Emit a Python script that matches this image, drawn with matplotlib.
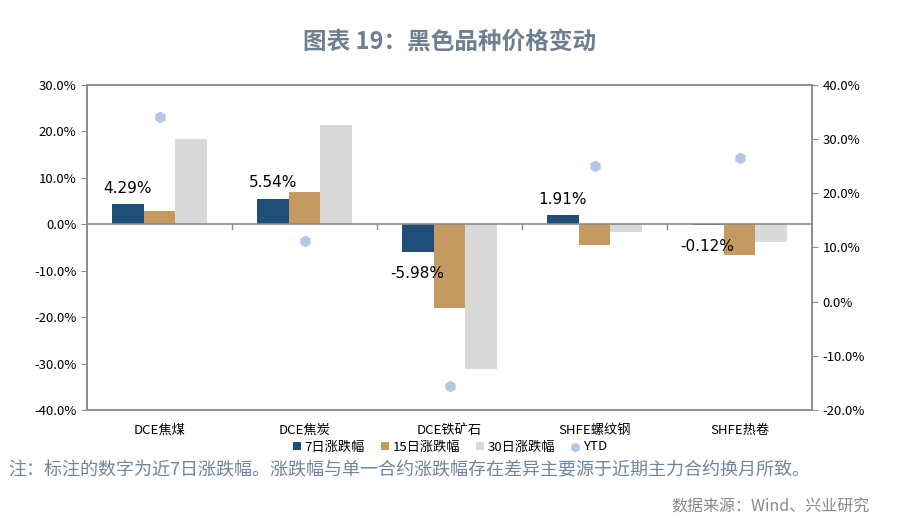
import matplotlib.pyplot as plt
import numpy as np

plt.rcParams['font.family'] = ['Noto Sans CJK SC', 'DejaVu Sans']

categories = ["DCE焦煤", "DCE焦炭", "DCE铁矿石", "SHFE螺纹钢", "SHFE热卷"]
chg_7d = [4.29, 5.54, -5.98, 1.91, -0.12]
chg_15d = [2.9, 7.0, -18.0, -4.4, -6.6]
chg_30d = [18.4, 21.4, -31.2, -1.7, -3.8]
ytd = [34.1, 11.2, -15.6, 25.1, 26.5]
labels = ["7日涨跌幅", "15日涨跌幅", "30日涨跌幅", "YTD"]

c7 = "#1f4e79"
c15 = "#c49a60"
c30 = "#d9d9d9"
cytd = "#b4c7e7"
frame = "#8c8c8c"

fig = plt.figure(figsize=(9, 5.28), dpi=100)
ax = fig.add_axes([87/900, 1-410/528, 725/900, 325/528])
ax2 = ax.twinx()

x = np.arange(len(categories))
w = 0.22
b1 = ax.bar(x - w, chg_7d, w, color=c7, label=labels[0])
b2 = ax.bar(x, chg_15d, w, color=c15, label=labels[1])
b3 = ax.bar(x + w, chg_30d, w, color=c30, label=labels[2])
sc = ax2.scatter(x, ytd, marker="h", s=55, color=cytd, zorder=3, label=labels[3])

# data labels for 7 day change
for xi, v in zip(x, chg_7d):
    if v >= 0:
        ax.annotate(f"{v:.2f}%", (xi - w, v), xytext=(0, 6), textcoords="offset points",
                    ha="center", va="bottom", fontsize=11, family="DejaVu Sans")
    else:
        ax.annotate(f"{v:.2f}%", (xi - w, v), xytext=(0, -10), textcoords="offset points",
                    ha="center", va="top", fontsize=11, family="DejaVu Sans")

ax.set_xlim(-0.5, len(categories) - 0.5)
ax.set_ylim(-40, 30)
ax2.set_ylim(-20, 40)
ax.set_yticks(np.arange(-40, 31, 10))
ax2.set_yticks(np.arange(-20, 41, 10))
ax.set_yticklabels([f"{v:.1f}%" for v in np.arange(-40, 31, 10)], fontsize=9.5)
ax2.set_yticklabels([f"{v:.1f}%" for v in np.arange(-20, 41, 10)], fontsize=9.5)

ax.set_xticks(x)
ax.set_xticklabels(categories, fontsize=9.5)
ax.tick_params(axis="x", length=0, pad=10)
ax.axhline(0, color=frame, lw=1.2, zorder=2)
for b in np.arange(0.5, len(categories) - 1, 1):
    ax.plot([b, b], [0, -1], color=frame, lw=1, zorder=2)

for a in (ax, ax2):
    for s in a.spines.values():
        s.set_color(frame)
        s.set_linewidth(1.2)
    a.tick_params(axis="y", color=frame, length=4)

fig.legend(handles=[b1, b2, b3, sc], labels=labels, loc="center", ncol=4,
           bbox_to_anchor=(0.5, 1 - 447/528), frameon=False, fontsize=9.5,
           handlelength=0.6, handleheight=0.6, handletextpad=0.3, columnspacing=1.2,
           markerscale=0.8)

fig.text(0.5, 1 - 42/528, "图表 19：黑色品种价格变动", ha="center", va="center",
         fontsize=17, color="#6e7f91", fontweight="bold")
fig.text(8/900, 1 - 470/528, "注：标注的数字为近7日涨跌幅。涨跌幅与单一合约涨跌幅存在差异主要源于近期主力合约换月所致。",
         ha="left", va="center", fontsize=13, color="#6e86a0")
fig.text(870/900, 1 - 507/528, "数据来源：Wind、兴业研究", ha="right", va="center",
         fontsize=11.5, color="#8a8a8a")

fig.savefig("out.png", dpi=100)
